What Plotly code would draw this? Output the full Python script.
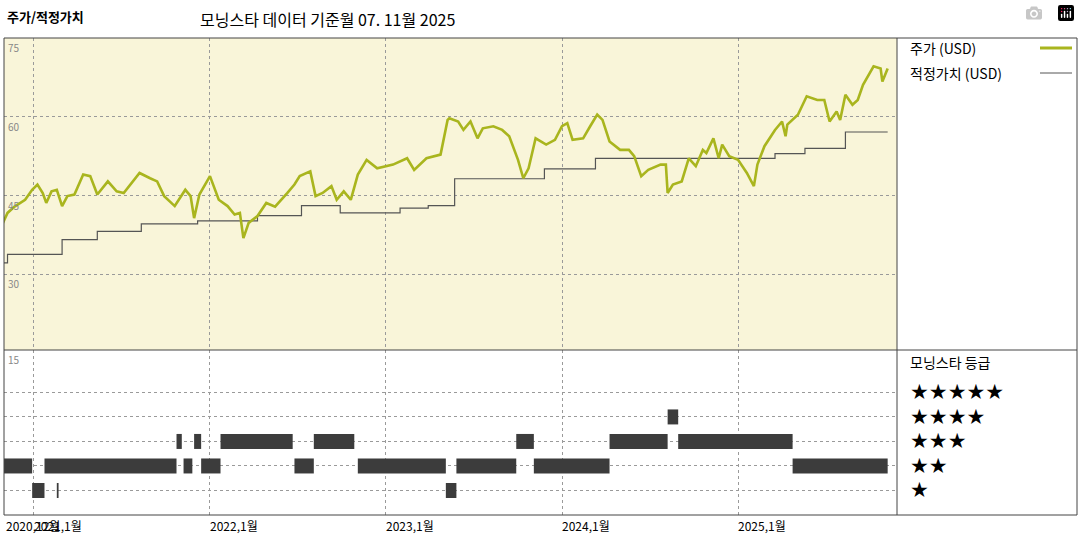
import plotly.graph_objects as go

# price (USD), x in decimal years
price_t = [2020.82, 2020.85, 2020.89, 2020.95, 2020.99, 2021.02, 2021.05, 2021.07, 2021.10, 2021.13,
           2021.16, 2021.19, 2021.23, 2021.28, 2021.32, 2021.36, 2021.42, 2021.47, 2021.51, 2021.56,
           2021.60, 2021.66, 2021.70, 2021.74, 2021.80, 2021.86, 2021.89, 2021.91, 2021.94, 2022.00,
           2022.05, 2022.10, 2022.14, 2022.17, 2022.19, 2022.22, 2022.27, 2022.32, 2022.37, 2022.44,
           2022.48, 2022.51, 2022.57, 2022.60, 2022.64, 2022.69, 2022.72, 2022.76, 2022.80, 2022.84,
           2022.89, 2022.95, 2023.04, 2023.12, 2023.16, 2023.23, 2023.31, 2023.35, 2023.36, 2023.41,
           2023.44, 2023.48, 2023.52, 2023.55, 2023.61, 2023.66, 2023.70, 2023.75, 2023.78, 2023.81,
           2023.85, 2023.91, 2023.96, 2024.00, 2024.03, 2024.06, 2024.12, 2024.16, 2024.20, 2024.23,
           2024.27, 2024.33, 2024.38, 2024.41, 2024.45, 2024.49, 2024.56, 2024.59, 2024.60, 2024.63,
           2024.68, 2024.72, 2024.76, 2024.80, 2024.82, 2024.86, 2024.89, 2024.91, 2024.95, 2025.00,
           2025.05, 2025.09, 2025.11, 2025.15, 2025.21, 2025.25, 2025.27, 2025.28, 2025.34, 2025.39,
           2025.45, 2025.49, 2025.52, 2025.56, 2025.58, 2025.61, 2025.65, 2025.68, 2025.71, 2025.77,
           2025.81, 2025.82, 2025.85]
price_v = [39.5, 41.7, 42.9, 44.2, 46.1, 47.1, 45.5, 43.6, 45.8, 46.1,
           43.0, 44.9, 45.2, 49.0, 48.7, 45.2, 47.7, 45.8, 45.5, 47.7,
           49.3, 48.3, 47.7, 44.9, 43.0, 46.1, 44.9, 40.7, 45.2, 48.7,
           44.2, 43.0, 41.4, 41.7, 36.9, 39.8, 41.1, 43.6, 42.9, 45.5,
           47.1, 48.7, 49.6, 44.9, 45.5, 46.8, 44.2, 45.8, 44.2, 49.0,
           51.8, 50.2, 50.9, 52.1, 49.9, 52.1, 52.8, 59.4, 59.7, 59.1,
           57.5, 59.1, 55.9, 57.8, 58.2, 57.5, 56.3, 51.8, 48.3, 50.2,
           55.9, 54.7, 55.6, 58.2, 58.8, 55.6, 55.9, 58.2, 60.4, 59.4,
           55.3, 53.7, 53.7, 52.5, 48.7, 49.9, 50.9, 50.9, 45.5, 47.1,
           47.7, 52.1, 50.6, 53.7, 53.1, 55.9, 52.1, 54.7, 52.5, 51.8,
           49.3, 46.8, 50.9, 54.4, 57.5, 59.1, 56.3, 58.5, 60.4, 63.9,
           63.2, 63.2, 59.1, 61.0, 59.4, 64.2, 62.3, 63.2, 66.1, 69.6,
           69.2, 66.7, 69.2]

# fair value steps (start of each level)
fair_t = [2020.83, 2020.85, 2021.16, 2021.36, 2021.61, 2021.93, 2022.27, 2022.52, 2022.74,
          2023.08, 2023.24, 2023.39, 2023.90, 2024.19, 2025.21, 2025.38, 2025.61, 2025.85]
fair_v = [32.2, 33.8, 36.6, 38.2, 39.6, 40.2, 41.2, 43.1, 41.7,
          42.6, 43.1, 48.2, 50.1, 52.1, 53.0, 54.0, 57.1, 57.1]

# star rating periods
rating_start = [2020.82, 2020.99, 2021.06, 2021.13, 2021.81, 2021.85, 2021.91, 2021.95, 2022.06,
                2022.48, 2022.59, 2022.84, 2023.34, 2023.40, 2023.74, 2023.84, 2024.27, 2024.60,
                2024.66, 2025.31]
rating_end = [2020.99, 2021.06, 2021.81, 2021.14, 2021.84, 2021.90, 2021.95, 2022.06, 2022.47,
              2022.59, 2022.82, 2023.34, 2023.40, 2023.74, 2023.84, 2024.27, 2024.60, 2024.66,
              2025.31, 2025.85]
rating_val = [2, 1, 2, 1, 3, 2, 3, 2, 3,
              2, 3, 2, 1, 2, 3, 2, 3, 4,
              3, 2]

year_ticks = [2021, 2022, 2023, 2024, 2025]
year_labels = ["2021,1월", "2022,1월", "2023,1월", "2024,1월", "2025,1월"]
price_ticks = [75, 60, 45, 30]

W, H = 1080, 540
X0, X1 = 4 / W, 897 / W
TOP = (1 - 350 / H, 1 - 38 / H)
BOT = (1 - 515 / H, 1 - 350 / H)
FONT = "Noto Sans CJK KR"

fig = go.Figure()
fig.add_trace(go.Scatter(x=fair_t, y=fair_v, mode="lines", line=dict(color="#555555", width=1.2, shape="hv"),
                         xaxis="x", yaxis="y", hoverinfo="skip"))
fig.add_trace(go.Scatter(x=price_t, y=price_v, mode="lines", line=dict(color="#a9b51e", width=2.6),
                         xaxis="x", yaxis="y"))

for s, e, r in zip(rating_start, rating_end, rating_val):
    fig.add_trace(go.Scatter(x=[s, e], y=[r, r], mode="lines", line=dict(color="#3c3c3c", width=15),
                             xaxis="x2", yaxis="y2", hoverinfo="skip"))

grid = dict(showgrid=True, gridcolor="#9a9a9a", griddash="dot", gridwidth=1, zeroline=False,
            showticklabels=False, ticks="", fixedrange=True)
xr = [2020.83, 2025.903]
fig.update_layout(
    width=W, height=H, margin=dict(l=0, r=0, t=0, b=0), showlegend=False,
    paper_bgcolor="white", plot_bgcolor="white",
    font=dict(family=FONT, size=12, color="black"),
    xaxis=dict(grid, domain=[X0, X1], range=xr, tickvals=year_ticks, anchor="y"),
    yaxis=dict(grid, domain=list(TOP), range=[15.6, 75], tickvals=[30, 45, 60], anchor="x"),
    xaxis2=dict(grid, domain=[X0, X1], range=xr, tickvals=year_ticks, anchor="y2"),
    yaxis2=dict(grid, domain=list(BOT), range=[0, 6.73], tickvals=[1, 2, 3, 4, 5], anchor="x2"),
)

# panel backgrounds and frame
fig.add_shape(type="rect", xref="paper", yref="paper", x0=X0, x1=X1, y0=TOP[0], y1=TOP[1],
              fillcolor="#f9f5d9", line_width=0, layer="below")
fig.add_shape(type="rect", xref="paper", yref="paper", x0=X0, x1=1077 / W, y0=BOT[0], y1=TOP[1],
              line=dict(color="#444", width=1), fillcolor="rgba(0,0,0,0)")
fig.add_shape(type="line", xref="paper", yref="paper", x0=X1, x1=X1, y0=BOT[0], y1=TOP[1],
              line=dict(color="#444", width=1))
fig.add_shape(type="line", xref="paper", yref="paper", x0=X0, x1=1077 / W, y0=TOP[0], y1=TOP[0],
              line=dict(color="#444", width=1))

# y tick labels inside plot
for v in price_ticks:
    fig.add_annotation(x=X0 + 2 / W, y=v, xref="paper", yref="y", text=str(v), showarrow=False,
                       xanchor="left", yanchor="top", font=dict(size=10, color="#888"))
fig.add_annotation(x=X0 + 2 / W, y=6.73, xref="paper", yref="y2", text="15", showarrow=False,
                   xanchor="left", yanchor="top", font=dict(size=10, color="#888"))

# x tick labels (first two overlap in the original too)
fig.add_annotation(x=X0, y=BOT[0], xref="paper", yref="paper", text="2020,12월", showarrow=False,
                   xanchor="left", yanchor="top", font=dict(size=12))
for t, lab in zip(year_ticks, year_labels):
    fig.add_annotation(x=t, y=BOT[0], xref="x2", yref="paper", text=lab, showarrow=False,
                       xanchor="left", yanchor="top", font=dict(size=12), xshift=-2)

# titles
fig.add_annotation(x=5 / W, y=1 - 16 / H, xref="paper", yref="paper", text="<b>주가/적정가치</b>",
                   showarrow=False, xanchor="left", yanchor="middle", font=dict(size=13))
fig.add_annotation(x=198 / W, y=1 - 19 / H, xref="paper", yref="paper",
                   text="모닝스타 데이터 기준월 07. 11월 2025", showarrow=False,
                   xanchor="left", yanchor="middle", font=dict(size=16))

# legend panel
fig.add_annotation(x=908 / W, y=1 - 48 / H, xref="paper", yref="paper", text="주가 (USD)", showarrow=False,
                   xanchor="left", yanchor="middle", font=dict(size=14))
fig.add_shape(type="line", xref="paper", yref="paper", x0=1040 / W, x1=1072 / W, y0=1 - 48 / H, y1=1 - 48 / H,
              line=dict(color="#a9b51e", width=3))
fig.add_annotation(x=908 / W, y=1 - 73 / H, xref="paper", yref="paper", text="적정가치 (USD)", showarrow=False,
                   xanchor="left", yanchor="middle", font=dict(size=14))
fig.add_shape(type="line", xref="paper", yref="paper", x0=1040 / W, x1=1072 / W, y0=1 - 73 / H, y1=1 - 73 / H,
              line=dict(color="#555", width=1))
fig.add_annotation(x=908 / W, y=1 - 362 / H, xref="paper", yref="paper", text="모닝스타 등급", showarrow=False,
                   xanchor="left", yanchor="middle", font=dict(size=14))
for n in range(5, 0, -1):
    fig.add_annotation(x=908 / W, y=n, xref="paper", yref="y2", text="★" * n, showarrow=False,
                       xanchor="left", yanchor="middle", font=dict(size=21, family="DejaVu Sans"))

fig.write_html("out.html", post_script="document.body.style.margin='0';")
